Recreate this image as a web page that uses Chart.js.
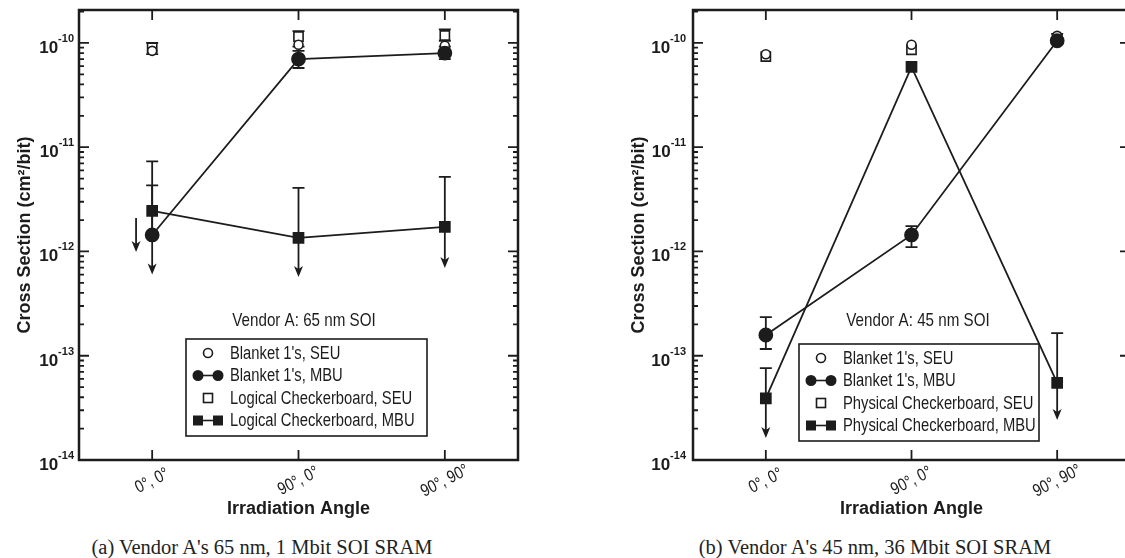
<!DOCTYPE html>
<html>
<head>
<meta charset="utf-8">
<script src="https://cdn.jsdelivr.net/npm/chart.js@4.4.0/dist/chart.umd.min.js"></script>
<style>
  body { margin: 0; background: #fff; overflow: hidden; width: 1125px; height: 558px; position: relative; }
  canvas { position: absolute; top: 0; }
  #chartA { left: 0; }
  #chartB { left: 565px; }
  .caption { position: absolute; top: 535px; width: 420px; text-align: center; white-space: nowrap;
    font: 20.5px "Liberation Serif", "Times New Roman", serif; color: #222; line-height: 24px; }
</style>
</head>
<body>
<canvas id="chartA" width="560" height="530"></canvas>
<canvas id="chartB" width="600" height="530"></canvas>
<div class="caption" style="left:52px">(a) Vendor A's 65 nm, 1 Mbit SOI SRAM</div>
<div class="caption" style="left:665px">(b) Vendor A's 45 nm, 36 Mbit SOI SRAM</div>
<script>
// categories on the x axis (placed at 0, 1, 2 on a linear scale)
const angleLabels = ['0°, 0°', '90°, 0°', '90°, 90°'];
const anglePos = [0, 1, 2];
const yTickExps = [-14, -13, -12, -11, -10];

// (a) Vendor A 65 nm, 1 Mbit
const a_blanketSeu       = [8.4e-11, 9.6e-11, 9.4e-11];
const a_blanketMbu       = [1.44e-12, 7.0e-11, 8.0e-11];
const a_blanketMbuHi     = [4.3e-12, 8.4e-11, 9.2e-11];
const a_blanketMbuLo     = [null, 5.75e-11, 7.0e-11];
const a_logicalSeu       = [9.0e-11, 1.15e-10, 1.18e-10];
const a_logicalSeuHi     = [1.0e-10, 1.3e-10, 1.35e-10];
const a_logicalSeuLo     = [7.8e-11, 9.2e-11, 1.05e-10];
const a_logicalMbu       = [2.45e-12, 1.35e-12, 1.72e-12];
const a_logicalMbuHi     = [7.3e-12, 4.07e-12, 5.2e-12];
const a_logicalMbuLimit  = [6.0e-13, 5.7e-13, 6.95e-13];
// lone upper-limit arrow just left of 0°,0°
const a_extraArrowX   = [-0.11];
const a_extraArrowTop = [2.1e-12];
const a_extraArrowTip = [9.9e-13];

// (b) Vendor A 45 nm, 36 Mbit
const b_blanketSeu       = [7.8e-11, 9.6e-11, 1.17e-10];
const b_blanketMbu       = [1.58e-13, 1.44e-12, 1.05e-10];
const b_blanketMbuHi     = [2.35e-13, 1.75e-12, 1.22e-10];
const b_blanketMbuLo     = [1.16e-13, 1.1e-12, null];
const b_physicalSeu      = [7.4e-11, 8.6e-11, 1.1e-10];
const b_physicalMbu      = [3.9e-14, 5.9e-11, 5.5e-14];
const b_physicalMbuHi    = [7.6e-14, null, 1.65e-13];
const b_physicalMbuLimit = [1.63e-14, null, 2.42e-14];

const ink = '#1c1c1c';

function pts(vals) {
  return anglePos.map((x, i) => ({x: x, y: vals[i]}));
}

function narrowText(ctx, text, x, y, align) {
  ctx.save();
  ctx.translate(x, y);
  ctx.scale(0.82, 1);
  ctx.textAlign = align;
  ctx.fillText(text, 0, 0);
  ctx.restore();
}

function arrowDown(ctx, x, y0, tip) {
  ctx.beginPath(); ctx.moveTo(x, y0); ctx.lineTo(x, tip - 6); ctx.stroke();
  ctx.beginPath(); ctx.moveTo(x, tip); ctx.lineTo(x - 4.5, tip - 11); ctx.lineTo(x, tip - 8); ctx.lineTo(x + 4.5, tip - 11);
  ctx.closePath(); ctx.fill();
}

function drawErrorBars(chart) {
  const ctx = chart.ctx, xs = chart.scales.x, ys = chart.scales.y;
  ctx.save();
  ctx.strokeStyle = ink; ctx.fillStyle = ink; ctx.lineWidth = 1.8;
  chart.data.datasets.forEach(ds => {
    ds.data.forEach((p, i) => {
      const px = xs.getPixelForValue(p.x), py = ys.getPixelForValue(p.y);
      [ds.errHi, ds.errLo].forEach(arr => {
        if (arr && arr[i]) {
          const ey = ys.getPixelForValue(arr[i]);
          ctx.beginPath(); ctx.moveTo(px, py); ctx.lineTo(px, ey);
          ctx.moveTo(px - 6, ey); ctx.lineTo(px + 6, ey); ctx.stroke();
        }
      });
      if (ds.limit && ds.limit[i]) arrowDown(ctx, px, py, ys.getPixelForValue(ds.limit[i]));
    });
  });
  const extra = chart.options.plugins.panelDecor.extraArrows;
  if (extra) {
    extra.x.forEach((x, i) => {
      arrowDown(ctx, xs.getPixelForValue(x), ys.getPixelForValue(extra.top[i]), ys.getPixelForValue(extra.tip[i]));
    });
  }
  ctx.restore();
}

function drawFrame(chart) {
  const ctx = chart.ctx, xs = chart.scales.x, ys = chart.scales.y;
  const {left, right, top, bottom} = chart.chartArea;
  ctx.save();
  ctx.strokeStyle = ink; ctx.lineWidth = 2.5;
  ctx.strokeRect(left, top, right - left, bottom - top);
  ctx.lineWidth = 1.8;
  ctx.beginPath();
  yTickExps.forEach(e => {
    for (let m = 1; m < 10; m++) {
      const v = m * Math.pow(10, e);
      if (v > ys.max) break;
      const py = ys.getPixelForValue(v), len = m === 1 ? 10 : 5;
      ctx.moveTo(left, py); ctx.lineTo(left + len, py);
      ctx.moveTo(right, py); ctx.lineTo(right - len, py);
    }
  });
  anglePos.forEach(v => {
    const px = xs.getPixelForValue(v);
    ctx.moveTo(px, bottom); ctx.lineTo(px, bottom - 10);
    ctx.moveTo(px, top); ctx.lineTo(px, top + 10);
  });
  ctx.stroke();
  ctx.restore();
}

function drawAxisText(chart, opts) {
  const ctx = chart.ctx, xs = chart.scales.x, ys = chart.scales.y;
  const {left, right, top, bottom} = chart.chartArea;
  ctx.save();
  ctx.fillStyle = ink;
  ctx.textBaseline = 'alphabetic';
  // y tick labels: 10 with superscript exponent
  yTickExps.forEach(e => {
    const py = ys.getPixelForValue(Math.pow(10, e));
    const sup = '-' + Math.abs(e);
    ctx.font = 'bold 11px "Liberation Sans", Arial, sans-serif';
    const supW = ctx.measureText(sup).width;
    ctx.textAlign = 'right';
    ctx.fillText(sup, left - opts.labelGap, py - 1);
    ctx.font = 'bold 17px "Liberation Sans", Arial, sans-serif';
    ctx.fillText('10', left - opts.labelGap - supW, py + 10);
  });
  // x tick labels, rotated
  ctx.font = '17.5px "Liberation Sans", Arial, sans-serif';
  anglePos.forEach((v, i) => {
    const px = xs.getPixelForValue(v);
    ctx.save();
    ctx.translate(px, bottom + 21);
    ctx.rotate(-27 * Math.PI / 180);
    ctx.textBaseline = 'middle';
    narrowText(ctx, angleLabels[i], 0, 0, 'center');
    ctx.restore();
  });
  // axis titles
  ctx.font = 'bold 18px "Liberation Sans", Arial, sans-serif';
  ctx.textAlign = 'center';
  ctx.textBaseline = 'middle';
  ctx.fillText('Irradiation Angle', (left + right) / 2, bottom + 49);
  ctx.save();
  ctx.translate(left - 54, (top + bottom) / 2);
  ctx.rotate(-Math.PI / 2);
  ctx.fillText('Cross Section (cm²/bit)', 0, 0);
  ctx.restore();
  // annotation above legend
  ctx.font = '18.5px "Liberation Sans", Arial, sans-serif';
  ctx.textBaseline = 'middle';
  narrowText(ctx, opts.note, left + 225, top + 311, 'center');
  ctx.restore();
}

function drawLegendBox(chart, opts) {
  const ctx = chart.ctx;
  const {left, top} = chart.chartArea;
  const bx = left + opts.legendX, by = top + opts.legendY;
  ctx.save();
  ctx.strokeStyle = ink; ctx.lineWidth = 1.6;
  ctx.fillStyle = '#fff';
  ctx.fillRect(bx, by, opts.legendW, 97);
  ctx.strokeRect(bx, by, opts.legendW, 97);
  ctx.font = '18px "Liberation Sans", Arial, sans-serif';
  ctx.textBaseline = 'middle';
  opts.legendLabels.forEach((label, i) => {
    const cy = by + 14 + i * 22.5, cx = bx + 22;
    ctx.fillStyle = ink;
    if (i === 0) {
      ctx.beginPath(); ctx.arc(cx, cy, 4.5, 0, Math.PI * 2); ctx.fillStyle = '#fff'; ctx.fill(); ctx.stroke();
    } else if (i === 1) {
      ctx.beginPath(); ctx.moveTo(cx - 12, cy); ctx.lineTo(cx + 12, cy); ctx.stroke();
      ctx.beginPath(); ctx.arc(cx - 10, cy, 5.5, 0, Math.PI * 2); ctx.arc(cx + 10, cy, 5.5, 0, Math.PI * 2); ctx.fill();
    } else if (i === 2) {
      ctx.fillStyle = '#fff'; ctx.fillRect(cx - 4.5, cy - 4.5, 9, 9); ctx.strokeRect(cx - 4.5, cy - 4.5, 9, 9);
    } else {
      ctx.beginPath(); ctx.moveTo(cx - 12, cy); ctx.lineTo(cx + 12, cy); ctx.stroke();
      ctx.fillRect(cx - 15, cy - 5, 10, 10); ctx.fillRect(cx + 5, cy - 5, 10, 10);
    }
    ctx.fillStyle = ink;
    narrowText(ctx, label, bx + 44, cy + 1, 'left');
  });
  ctx.restore();
}

const panelDecor = {
  id: 'panelDecor',
  beforeDatasetsDraw(chart) { drawErrorBars(chart); },
  afterDraw(chart, args, opts) {
    drawFrame(chart);
    drawAxisText(chart, opts);
    drawLegendBox(chart, opts);
  }
};

function openSet(label, vals, style, radius, hi, lo) {
  return {
    label: label, data: pts(vals), showLine: false, pointStyle: style, pointRadius: radius,
    pointBackgroundColor: '#fff', pointBorderColor: ink, pointBorderWidth: 1.6,
    errHi: hi, errLo: lo, order: 3
  };
}

function mbuSet(label, vals, style, radius, hi, lo, limit) {
  return {
    label: label, data: pts(vals), showLine: true, borderColor: ink, borderWidth: 1.8, tension: 0,
    pointStyle: style, pointRadius: radius, pointBackgroundColor: ink, pointBorderColor: ink,
    errHi: hi, errLo: lo, limit: limit, order: 1
  };
}

function panelConfig(datasets, decor, padRight) {
  return {
    type: 'scatter',
    data: {datasets: datasets},
    options: {
      responsive: false,
      animation: false,
      layout: {padding: {left: decor.padLeft, top: 10, right: padRight, bottom: 70}},
      plugins: {legend: {display: false}, tooltip: {enabled: false}, panelDecor: decor},
      scales: {
        x: {type: 'linear', min: -0.5, max: 2.5, display: false},
        y: {type: 'logarithmic', min: 1e-14, max: 2.07e-10, display: false}
      }
    },
    plugins: [panelDecor]
  };
}

var chartA = new Chart(document.getElementById('chartA').getContext('2d'), panelConfig([
  openSet("Blanket 1's, SEU", a_blanketSeu, 'circle', 4.5, null, null),
  openSet('Logical Checkerboard, SEU', a_logicalSeu, 'rect', 6.5, a_logicalSeuHi, a_logicalSeuLo),
  mbuSet('Logical Checkerboard, MBU', a_logicalMbu, 'rect', 7, a_logicalMbuHi, null, a_logicalMbuLimit),
  mbuSet("Blanket 1's, MBU", a_blanketMbu, 'circle', 6.5, a_blanketMbuHi, a_blanketMbuLo, null)
], {
  padLeft: 79, labelGap: 5, note: 'Vendor A: 65 nm SOI',
  legendX: 107, legendY: 329, legendW: 241,
  legendLabels: ["Blanket 1's, SEU", "Blanket 1's, MBU", 'Logical Checkerboard, SEU', 'Logical Checkerboard, MBU'],
  extraArrows: {x: a_extraArrowX, top: a_extraArrowTop, tip: a_extraArrowTip}
}, 42));

var chartB = new Chart(document.getElementById('chartB').getContext('2d'), panelConfig([
  openSet("Blanket 1's, SEU", b_blanketSeu, 'circle', 4.5, null, null),
  openSet('Physical Checkerboard, SEU', b_physicalSeu, 'rect', 6.5, null, null),
  mbuSet('Physical Checkerboard, MBU', b_physicalMbu, 'rect', 7, b_physicalMbuHi, null, b_physicalMbuLimit),
  mbuSet("Blanket 1's, MBU", b_blanketMbu, 'circle', 6.5, b_blanketMbuHi, b_blanketMbuLo, null)
], {
  padLeft: 128, labelGap: 7, note: 'Vendor A: 45 nm SOI',
  legendX: 106, legendY: 334, legendW: 240,
  legendLabels: ["Blanket 1's, SEU", "Blanket 1's, MBU", 'Physical Checkerboard, SEU', 'Physical Checkerboard, MBU']
}, 35));
</script>
</body>
</html>
